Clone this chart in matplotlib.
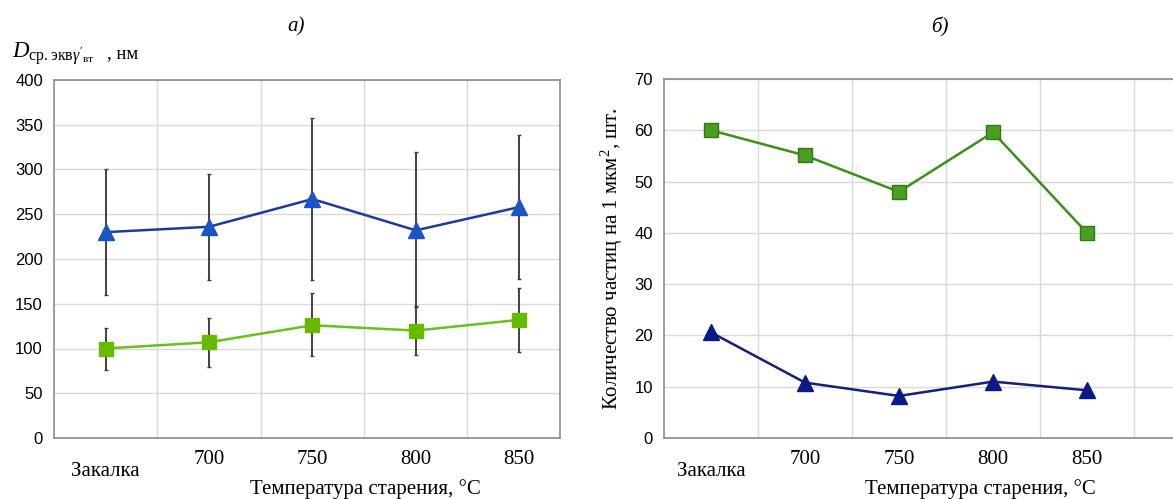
import matplotlib
matplotlib.use("Agg")
import matplotlib.pyplot as plt
import matplotlib.transforms as mtransforms

plt.rcParams['mathtext.fontset'] = 'custom'
plt.rcParams['mathtext.rm'] = 'Liberation Serif'
plt.rcParams['mathtext.it'] = 'Liberation Serif:italic'

# categories (aging temperature)
categories = ["Закалка", "700", "750", "800", "850"]

# a) equivalent diameter, nm
size_large = [230, 236, 267, 232, 258]
size_large_hi = [300, 295, 357, 320, 338]
size_large_lo = [160, 176, 176, 146, 178]
size_small = [100, 107, 126, 120, 132]
size_small_hi = [123, 134, 162, 148, 168]
size_small_lo = [76, 79, 92, 93, 96]

# b) particle count per 1 um^2
count_small = [60.0, 55.1, 48.0, 59.6, 40.0]
count_large = [20.6, 10.8, 8.2, 11.0, 9.3]

serif = "Liberation Serif"
sans = "Liberation Sans"
grid_c = "#d9d9d9"
spine_c = "#8c8c8c"

fig = plt.figure(figsize=(11.73, 4.99), dpi=100)
ax1 = fig.add_axes([54/1173, 1-438/499, (560-54)/1173, (438-80)/499])
ax2 = fig.add_axes([664/1173, 1-438/499, (1173-664)/1173, (438-79)/499])

x = list(range(len(categories)))


def style_axes(ax, ylim, ystep, xlim):
    ax.set_xlim(*xlim)
    ax.set_ylim(*ylim)
    ax.set_yticks(range(ylim[0], ylim[1] + 1, ystep))
    ax.set_xticks(x)
    ax.set_xticklabels(categories, fontfamily=serif, fontsize=15)
    for t in ax.get_yticklabels():
        t.set_fontfamily(sans)
        t.set_fontsize(12)
    ax.tick_params(length=0, pad=8)
    ax.tick_params(axis='x', pad=9)
    for b in [i + 0.5 for i in x]:
        ax.axvline(b, color=grid_c, lw=1.0, zorder=0)
    ax.yaxis.grid(True, color=grid_c, lw=1.0, zorder=0)
    ax.set_axisbelow(True)
    for s in ax.spines.values():
        s.set_color(spine_c)
        s.set_linewidth(1.2)
    # push the first label (Закалка) lower
    lab = ax.get_xticklabels()[0]
    lab.set_transform(lab.get_transform() +
                      mtransforms.ScaledTranslation(0, -0.11, fig.dpi_scale_trans))


# --- panel a ---
style_axes(ax1, (0, 400), 50, (-0.5, 4.395))
err_c = "#404040"
ax1.errorbar(x, size_large,
             yerr=[[m - l for m, l in zip(size_large, size_large_lo)],
                   [h - m for m, h in zip(size_large, size_large_hi)]],
             fmt='none', ecolor=err_c, elinewidth=1.4, capsize=1.5, zorder=2)
ax1.errorbar(x, size_small,
             yerr=[[m - l for m, l in zip(size_small, size_small_lo)],
                   [h - m for m, h in zip(size_small, size_small_hi)]],
             fmt='none', ecolor=err_c, elinewidth=1.4, capsize=1.5, zorder=2)
ax1.plot(x, size_large, color="#1f3a9e", lw=1.8, marker='^', ms=11,
         mfc="#1a55c8", mec="#1a55c8", zorder=3)
ax1.plot(x, size_small, color="#6bbf1e", lw=1.8, marker='s', ms=10,
         mfc="#66bb00", mec="#66bb00", zorder=3)
fig.text(365/1173, 1-489/499, "Температура старения, °С", fontfamily=serif,
         fontsize=15, ha='center', va='center')
fig.text(12/1173, 1-58/499,
         r"$D_{\mathrm{ср.экв}\gamma'_{\mathrm{вт}}}$",
         fontsize=16.5, va='baseline', ha='left')
fig.text(107/1173, 1-58/499, ", нм", fontsize=13.5, fontfamily=serif,
         va='baseline', ha='left')
fig.text(296/1173, 1-27/499, "а)", fontfamily=serif, fontstyle='italic',
         fontsize=15, ha='center', va='center')

# --- panel b ---
style_axes(ax2, (0, 70), 10, (-0.5, 4.915))
ax2.spines['right'].set_visible(False)
ax2.plot(x, count_small, color="#3d8f1a", lw=1.8, marker='s', ms=10,
         mfc="#4a9e22", mec="#2f7a12", zorder=3)
ax2.plot(x, count_large, color="#14207a", lw=1.8, marker='^', ms=11,
         mfc="#0c1a86", mec="#0c1a86", zorder=3)
fig.text(980/1173, 1-489/499, "Температура старения, °С", fontfamily=serif,
         fontsize=15, ha='center', va='center')
ax2.set_ylabel("Количество частиц на 1 мкм$^2$, шт.", fontfamily=serif,
               fontsize=15)
ax2.yaxis.set_label_coords(-0.077, 0.5)
fig.text(940/1173, 1-27/499, "б)", fontfamily=serif, fontstyle='italic',
         fontsize=15, ha='center', va='center')

fig.savefig("out.png", dpi=100)
